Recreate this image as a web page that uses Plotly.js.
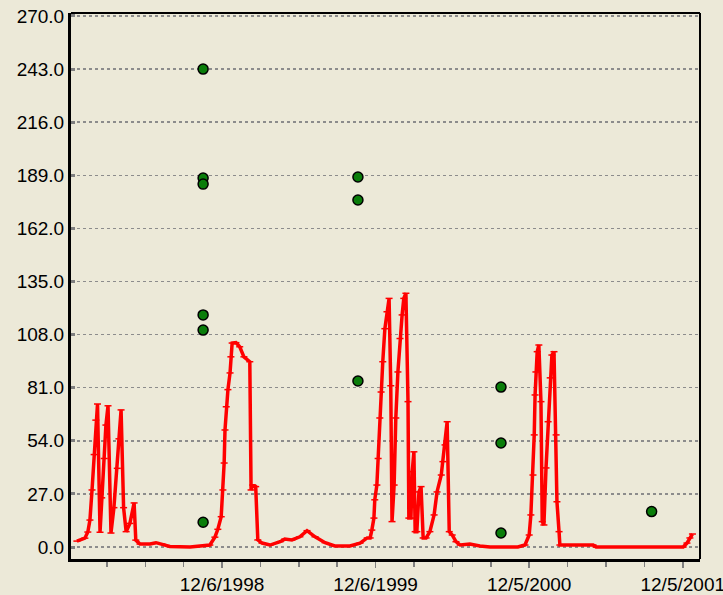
<!DOCTYPE html>
<html>
<head>
<meta charset="utf-8">
<script src="https://cdn.plot.ly/plotly-3.0.1.min.js"></script>
<style>html,body{margin:0;padding:0;background:#ECE9D8;}#chart{width:723px;height:595px;}</style>
</head>
<body>
<div id="chart"></div>
<script>
// Simulated flow (red line)
const simDates = [
 '1997-12-26','1998-01-14','1998-01-21','1998-01-26','1998-01-31','1998-02-05','1998-02-09','1998-02-13',
 '1998-02-19','1998-02-23','1998-03-01','1998-03-05','1998-03-10','1998-03-17','1998-03-24','1998-04-01',
 '1998-04-05','1998-04-10','1998-04-16','1998-04-22','1998-05-01','1998-05-11','1998-05-15','1998-05-25',
 '1998-06-18','1998-07-02','1998-07-16','1998-08-04','1998-09-21','1998-10-27','1998-11-07','1998-11-19',
 '1998-11-26','1998-12-04','1998-12-08','1998-12-11','1998-12-13','1998-12-16','1998-12-20','1998-12-25',
 '1998-12-27','1998-12-30','1999-01-08','1999-01-17','1999-01-27','1999-02-10','1999-02-13','1999-02-17',
 '1999-02-24','1999-03-01','1999-03-11','1999-03-30','1999-04-23','1999-05-04','1999-05-21','1999-06-09',
 '1999-06-26','1999-07-15','1999-08-08','1999-08-31','1999-10-06','1999-10-30','1999-11-16','1999-11-23',
 '1999-11-27','1999-12-02','1999-12-04','1999-12-09','1999-12-12','1999-12-16','1999-12-19','1999-12-23',
 '1999-12-28','2000-01-02','2000-01-07','2000-01-11','2000-01-14','2000-01-19','2000-01-23','2000-01-28',
 '2000-02-02','2000-02-07','2000-02-11','2000-02-16','2000-02-21','2000-02-23','2000-02-28','2000-03-02',
 '2000-03-06','2000-03-09','2000-03-13','2000-03-18','2000-03-23','2000-03-28','2000-04-04','2000-04-13',
 '2000-04-23','2000-04-30','2000-05-10','2000-05-14','2000-05-19','2000-05-24','2000-05-29','2000-06-05',
 '2000-06-14','2000-06-24','2000-07-17','2000-08-10','2000-09-03','2000-11-08','2000-11-25','2000-12-05',
 '2000-12-09','2000-12-14','2000-12-17','2000-12-19','2000-12-21','2000-12-24','2000-12-28','2001-01-02',
 '2001-01-05','2001-01-09','2001-01-14','2001-01-19','2001-01-24','2001-01-28','2001-02-02','2001-02-07',
 '2001-02-09','2001-02-14','2001-02-16','2001-03-24','2001-05-06','2001-05-13','2001-12-06','2001-12-15',
 '2001-12-22','2001-12-28'
];
const simValues = [
 3, 4.5, 7.6, 13.7, 29, 47, 64.5, 72.7,
 7.5, 25, 45, 62, 71.8, 7.1, 20, 40,
 55, 69.7, 20, 7.8, 12, 22.4, 3.5, 1.5,
 1.5, 2.2, 1.5, 0.3, 0, 0.5, 1, 5,
 9, 15.4, 29, 42.7, 59.5, 71.3, 80, 88.5,
 96.7, 103.7, 103.9, 101.8, 96.7, 94.2, 29, 31.5,
 30.7, 3.6, 2, 1, 2.7, 4, 3.6, 5.2,
 8.3, 5.2, 2.2, 0.5, 0.5, 2, 4.6, 4.6,
 8.6, 14.7, 24, 31.5, 45, 65.6, 78.8, 94.2,
 111, 119.6, 126.4, 82, 12.9, 31.5, 65.6, 89,
 106, 118, 126.4, 129, 73.9, 14.7, 14.7, 38.3,
 48.4, 7.8, 7.8, 28, 30.7, 4.6, 4.6, 7.8,
 16.3, 28, 36.6, 43.4, 51.9, 63.7, 7.8, 6.1,
 2.7, 1, 1.5, 0.5, 0, 0, 1, 6.1,
 16.3, 36.6, 57, 77.3, 89, 99.3, 102.7, 73.9,
 12.9, 11.2, 40.2, 63.7, 86, 97.6, 99.3, 57,
 23, 7.8, 1, 1, 1, 0, 0, 2,
 4.6, 6.6
];

// Observed values (green dots)
const obsDates = [
 '1998-10-22','1998-10-22','1998-10-22','1998-10-22','1998-10-22','1998-10-22',
 '1999-10-25','1999-10-25','1999-10-25',
 '2000-09-29','2000-09-29','2000-09-29',
 '2001-09-22'
];
const obsValues = [
 243, 187.6, 184.5, 118, 110.3, 12.6,
 188.1, 176.4, 84.4,
 81.3, 52.9, 7.1,
 18
];

// Axis ticks
const xTickVals = ['1998-12-06','1999-12-06','2000-12-05','2001-12-05'];
const xTickText = ['12/6/1998','12/6/1999','12/5/2000','12/5/2001'];
const yTickVals = [0, 27, 54, 81, 108, 135, 162, 189, 216, 243, 270];

const bg = '#ECE9D8';
const fontFam = '"Liberation Sans", Arial, sans-serif';

const traces = [
 {
  x: simDates, y: simValues, type: 'scatter', mode: 'lines+markers',
  line: {color: '#FF0000', width: 3.5},
  marker: {symbol: 'line-ew', size: 5, color: '#FF0000', line: {color: '#FF0000', width: 1.5}},
  hoverinfo: 'x+y'
 },
 {
  x: obsDates, y: obsValues, type: 'scatter', mode: 'markers',
  marker: {symbol: 'circle', size: 10, color: '#0A7D0A', line: {color: '#000000', width: 1.5}},
  hoverinfo: 'x+y'
 }
];

const layout = {
 width: 723, height: 595,
 margin: {l: 71, r: 23, t: 13, b: 36, pad: 0},
 paper_bgcolor: bg, plot_bgcolor: bg,
 showlegend: false,
 font: {family: fontFam, size: 19, color: '#000'},
 xaxis: {
  type: 'date',
  range: ['1997-12-12', '2002-01-15'],
  tickmode: 'array', tickvals: xTickVals, ticktext: xTickText,
  ticks: 'outside', ticklen: 6, tickwidth: 1.5, tickcolor: '#7f7f7f',
  ticklabeloverflow: 'allow',
  showgrid: false, zeroline: false,
  showline: true, linecolor: '#000', linewidth: 3,
  tickfont: {family: fontFam, size: 19, color: '#000'},
  minor: {tick0: '1998-12-06', dtick: 7884000000, ticks: 'outside', ticklen: 5, tickwidth: 1.5, tickcolor: '#7f7f7f', showgrid: false}
 },
 yaxis: {
  range: [-6.1, 271.5],
  tickmode: 'array', tickvals: yTickVals, tickformat: '.1f',
  ticks: 'inside', ticklen: 4, tickwidth: 3, tickcolor: '#7f7f7f',
  showgrid: true, gridcolor: '#8c8c8c', gridwidth: 1.5, griddash: 'dot',
  zeroline: false,
  showline: true, linecolor: '#000', linewidth: 3,
  tickfont: {family: fontFam, size: 19, color: '#000'}
 },
 shapes: [
  {type: 'line', xref: 'paper', yref: 'paper', x0: 0, x1: 1, y0: 1, y1: 1, line: {color: '#000', width: 2}},
  {type: 'line', xref: 'paper', yref: 'paper', x0: 1, x1: 1, y0: 0, y1: 1, line: {color: '#000', width: 2}}
 ]
};

Plotly.newPlot('chart', traces, layout, {displayModeBar: false, staticPlot: true});
</script>
</body>
</html>
